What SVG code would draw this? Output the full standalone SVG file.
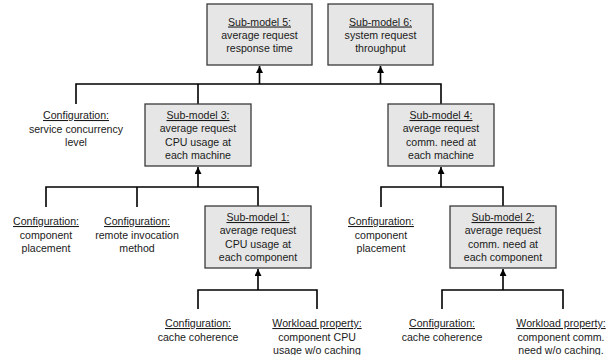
<svg xmlns="http://www.w3.org/2000/svg" width="608" height="355" viewBox="0 0 608 355">
<style>
text{font-family:"Liberation Sans",Arial,sans-serif;font-size:10.6px;fill:#1a1a1a;text-anchor:middle}
.u{text-decoration:underline}
.box{fill:#e6e6e6;stroke:#3a3a3a;stroke-width:1.3}
.c{fill:none;stroke:#000;stroke-width:1.6}
</style>
<defs>
<marker id="ah" viewBox="0 0 10 10" refX="10" refY="5" markerWidth="7" markerHeight="7" markerUnits="userSpaceOnUse" orient="auto">
<path d="M0,0 L10,5 L0,10 z" fill="#000"/>
</marker>
</defs>
<rect width="608" height="355" fill="#fff"/>
<g id="connectors">
<path class="c" d="M76,104 V84 H441 V104 M198,84 V104"/>
<path class="c" d="M259.5,84 V66" marker-end="url(#ah)"/>
<path class="c" d="M380.5,84 V66" marker-end="url(#ah)"/>
<path class="c" d="M46,207 V187 H258 V206 M137,187 V207"/>
<path class="c" d="M198,187 V167" marker-end="url(#ah)"/>
<path class="c" d="M381,207 V187 H503 V206"/>
<path class="c" d="M441,187 V167" marker-end="url(#ah)"/>
<path class="c" d="M198,309 V290 H317 V309"/>
<path class="c" d="M258,290 V269" marker-end="url(#ah)"/>
<path class="c" d="M442,309 V290 H563 V309"/>
<path class="c" d="M503,290 V269" marker-end="url(#ah)"/>
</g>
<g id="sub5">
<rect class="box" x="207" y="4" width="105" height="61"/>
<text x="259.5" y="25.5"><tspan class="u">Sub-model 5:</tspan></text>
<text x="259.5" y="38.5">average request</text>
<text x="259.5" y="51.5">response time</text>
</g>
<g id="sub6">
<rect class="box" x="328" y="4" width="105" height="61"/>
<text x="380.5" y="25.5"><tspan class="u">Sub-model 6:</tspan></text>
<text x="380.5" y="38.5">system request</text>
<text x="380.5" y="51.5">throughput</text>
</g>
<g id="cfg-concurrency">
<text x="76" y="119"><tspan class="u">Configuration:</tspan></text>
<text x="76" y="132.5">service concurrency</text>
<text x="76" y="146">level</text>
</g>
<g id="sub3">
<rect class="box" x="145" y="104" width="106" height="62"/>
<text x="198" y="119"><tspan class="u">Sub-model 3:</tspan></text>
<text x="198" y="132.3">average request</text>
<text x="198" y="145.6">CPU usage at</text>
<text x="198" y="159">each machine</text>
</g>
<g id="sub4">
<rect class="box" x="388" y="104" width="106" height="62"/>
<text x="441" y="119"><tspan class="u">Sub-model 4:</tspan></text>
<text x="441" y="132.3">average request</text>
<text x="441" y="145.6">comm. need at</text>
<text x="441" y="159">each machine</text>
</g>
<g id="cfg-placement-1">
<text x="46" y="225"><tspan class="u">Configuration:</tspan></text>
<text x="46" y="238.5">component</text>
<text x="46" y="252">placement</text>
</g>
<g id="cfg-invocation">
<text x="137" y="225"><tspan class="u">Configuration:</tspan></text>
<text x="137" y="238.5">remote invocation</text>
<text x="137" y="252">method</text>
</g>
<g id="sub1">
<rect class="box" x="205" y="206" width="106" height="62"/>
<text x="258" y="221"><tspan class="u">Sub-model 1:</tspan></text>
<text x="258" y="234.3">average request</text>
<text x="258" y="247.6">CPU usage at</text>
<text x="258" y="261">each component</text>
</g>
<g id="cfg-placement-2">
<text x="381" y="225"><tspan class="u">Configuration:</tspan></text>
<text x="381" y="238.5">component</text>
<text x="381" y="252">placement</text>
</g>
<g id="sub2">
<rect class="box" x="450" y="206" width="106" height="62"/>
<text x="503" y="221"><tspan class="u">Sub-model 2:</tspan></text>
<text x="503" y="234.3">average request</text>
<text x="503" y="247.6">comm. need at</text>
<text x="503" y="261">each component</text>
</g>
<g id="cfg-cache-1">
<text x="198" y="327"><tspan class="u">Configuration:</tspan></text>
<text x="198" y="340.5">cache coherence</text>
</g>
<g id="wl-cpu">
<text x="317" y="327"><tspan class="u">Workload property:</tspan></text>
<text x="317" y="340.5">component CPU</text>
<text x="317" y="354">usage w/o caching</text>
</g>
<g id="cfg-cache-2">
<text x="442" y="327"><tspan class="u">Configuration:</tspan></text>
<text x="442" y="340.5">cache coherence</text>
</g>
<g id="wl-comm">
<text x="561" y="327"><tspan class="u">Workload property:</tspan></text>
<text x="561" y="340.5">component comm.</text>
<text x="561" y="354">need w/o caching.</text>
</g>
</svg>
